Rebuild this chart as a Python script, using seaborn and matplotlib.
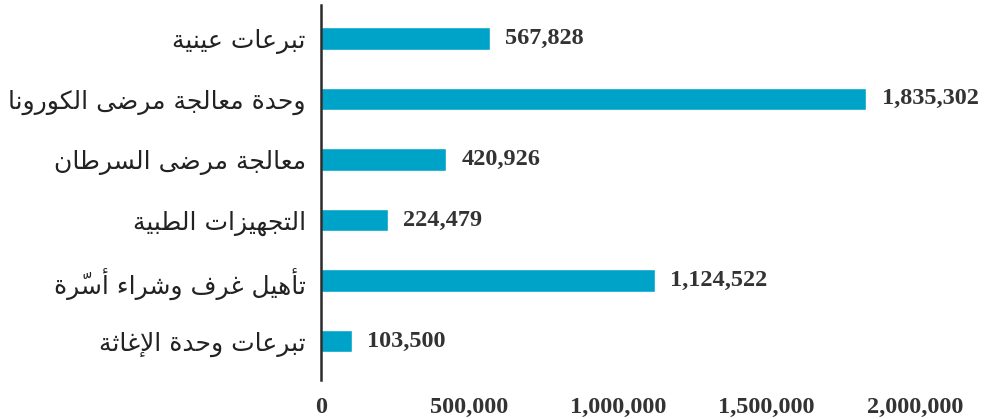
import matplotlib
matplotlib.use("Agg")
import matplotlib.pyplot as plt
import seaborn as sns
import pandas as pd

categories = [
    "تبرعات عينية",
    "وحدة معالجة مرضى الكورونا",
    "معالجة مرضى السرطان",
    "التجهيزات الطبية",
    "تأهيل غرف وشراء أسرّة",
    "تبرعات وحدة الإغاثة",
]
values = [567828, 1835302, 420926, 224479, 1124522, 103500]
x_ticks = [0, 500000, 1000000, 1500000, 2000000]

# ---- minimal Arabic shaper (presentation forms + visual reordering) ----
FORMS = {  # iso, fin, ini, med
    "\u0621": ("\uFE80", None, None, None),
    "\u0622": ("\uFE81", "\uFE82", None, None),
    "\u0623": ("\uFE83", "\uFE84", None, None),
    "\u0624": ("\uFE85", "\uFE86", None, None),
    "\u0625": ("\uFE87", "\uFE88", None, None),
    "\u0626": ("\uFE89", "\uFE8A", "\uFE8B", "\uFE8C"),
    "\u0627": ("\uFE8D", "\uFE8E", None, None),
    "\u0628": ("\uFE8F", "\uFE90", "\uFE91", "\uFE92"),
    "\u0629": ("\uFE93", "\uFE94", None, None),
    "\u062A": ("\uFE95", "\uFE96", "\uFE97", "\uFE98"),
    "\u062B": ("\uFE99", "\uFE9A", "\uFE9B", "\uFE9C"),
    "\u062C": ("\uFE9D", "\uFE9E", "\uFE9F", "\uFEA0"),
    "\u062D": ("\uFEA1", "\uFEA2", "\uFEA3", "\uFEA4"),
    "\u062E": ("\uFEA5", "\uFEA6", "\uFEA7", "\uFEA8"),
    "\u062F": ("\uFEA9", "\uFEAA", None, None),
    "\u0630": ("\uFEAB", "\uFEAC", None, None),
    "\u0631": ("\uFEAD", "\uFEAE", None, None),
    "\u0632": ("\uFEAF", "\uFEB0", None, None),
    "\u0633": ("\uFEB1", "\uFEB2", "\uFEB3", "\uFEB4"),
    "\u0634": ("\uFEB5", "\uFEB6", "\uFEB7", "\uFEB8"),
    "\u0635": ("\uFEB9", "\uFEBA", "\uFEBB", "\uFEBC"),
    "\u0636": ("\uFEBD", "\uFEBE", "\uFEBF", "\uFEC0"),
    "\u0637": ("\uFEC1", "\uFEC2", "\uFEC3", "\uFEC4"),
    "\u0638": ("\uFEC5", "\uFEC6", "\uFEC7", "\uFEC8"),
    "\u0639": ("\uFEC9", "\uFECA", "\uFECB", "\uFECC"),
    "\u063A": ("\uFECD", "\uFECE", "\uFECF", "\uFED0"),
    "\u0641": ("\uFED1", "\uFED2", "\uFED3", "\uFED4"),
    "\u0642": ("\uFED5", "\uFED6", "\uFED7", "\uFED8"),
    "\u0643": ("\uFED9", "\uFEDA", "\uFEDB", "\uFEDC"),
    "\u0644": ("\uFEDD", "\uFEDE", "\uFEDF", "\uFEE0"),
    "\u0645": ("\uFEE1", "\uFEE2", "\uFEE3", "\uFEE4"),
    "\u0646": ("\uFEE5", "\uFEE6", "\uFEE7", "\uFEE8"),
    "\u0647": ("\uFEE9", "\uFEEA", "\uFEEB", "\uFEEC"),
    "\u0648": ("\uFEED", "\uFEEE", None, None),
    "\u0649": ("\uFEEF", "\uFEF0", None, None),
    "\u064A": ("\uFEF1", "\uFEF2", "\uFEF3", "\uFEF4"),
}
LAMALEF = {"\u0622": ("\uFEF5", "\uFEF6"), "\u0623": ("\uFEF7", "\uFEF8"),
           "\u0625": ("\uFEF9", "\uFEFA"), "\u0627": ("\uFEFB", "\uFEFC")}


def is_mark(c):
    return "\u064B" <= c <= "\u065F" or c == "\u0670"


def shape(text):
    toks = []  # [base, marks, forms]
    i = 0
    while i < len(text):
        c = text[i]
        if is_mark(c) and toks:
            toks[-1][1] += c
            i += 1
            continue
        if c == "\u0644" and i + 1 < len(text) and text[i + 1] in LAMALEF:
            iso, fin = LAMALEF[text[i + 1]]
            toks.append(["LA", "", (iso, fin, None, None)])
            i += 2
            continue
        toks.append([c, "", FORMS.get(c)])
        i += 1
    out_glyphs = []
    for k, (b, m, f) in enumerate(toks):
        if f is None:
            out_glyphs.append(b + m)
            continue
        prev = toks[k - 1][2] if k > 0 else None
        nxt = toks[k + 1][2] if k + 1 < len(toks) else None
        jp = prev is not None and prev[2] is not None and f[1] is not None
        jn = f[2] is not None and nxt is not None and nxt[1] is not None
        if jp and jn:
            g = f[3]
        elif jp:
            g = f[1]
        elif jn:
            g = f[2]
        else:
            g = f[0]
        out_glyphs.append(g + m)
    return "".join(reversed(out_glyphs))


labels = [shape(c) for c in categories]
df = pd.DataFrame({"label": labels, "value": values})

sns.set_theme(style="white")
plt.rcParams["font.family"] = ["DejaVu Sans"]

fig = plt.figure(figsize=(9.85, 4.19), dpi=100)
ax = fig.add_axes([0.326, 0.093, 0.6634, 0.895])
sns.barplot(data=df, x="value", y="label", color="#00a3c8", saturation=1,
            width=0.37, orient="h", ax=ax)

ax.set_xlim(0, 2200000)
ax.set_ylim(5.64, -0.55)
ax.set_xlabel("")
ax.set_ylabel("")
ax.set_xticks(x_ticks)
ax.set_xticklabels([f"{v:,}" for v in x_ticks], fontfamily="Liberation Serif",
                   fontweight="bold", fontsize=17.5, color="#333333")
ax.tick_params(axis="x", length=0, pad=12)
ax.tick_params(axis="y", length=0, pad=11, labelsize=18, labelcolor="#222222")

for s in ["top", "right", "bottom"]:
    ax.spines[s].set_visible(False)
ax.spines["left"].set_color("#2b2b2b")
ax.spines["left"].set_linewidth(1.8)

for i, v in enumerate(values):
    ax.annotate(f"{v:,}", xy=(v, i), xytext=(11, 0), textcoords="offset points",
                ha="left", va="center", fontfamily="Liberation Serif",
                fontweight="bold", fontsize=17.5, color="#333333",
                annotation_clip=False)

fig.savefig("out.png", dpi=100)
